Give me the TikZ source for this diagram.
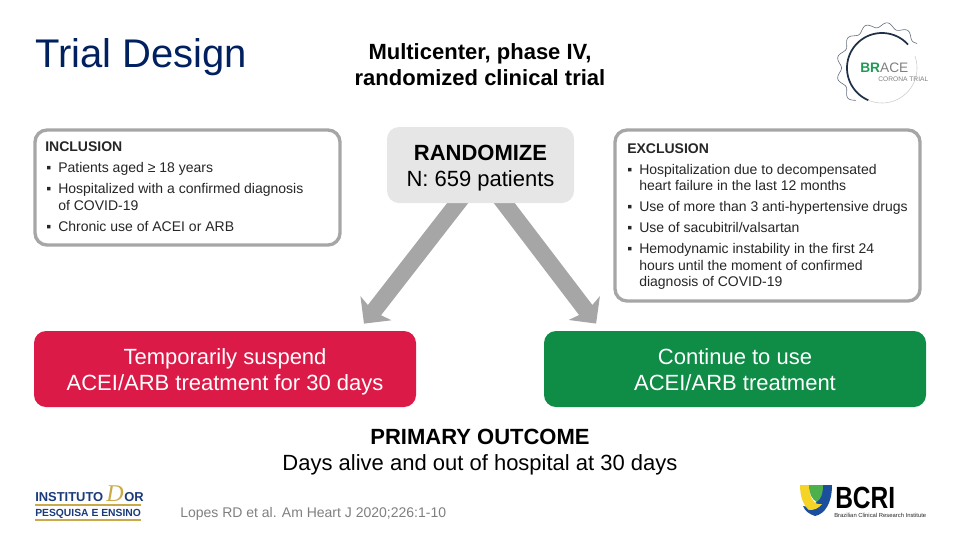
\documentclass[tikz,border=0pt]{standalone}
\usepackage{fontspec}
\usepackage{graphicx}
\setmainfont{Liberation Sans}
\newfontfamily\logoserif{Liberation Serif}
\usetikzlibrary{arrows.meta}
\definecolor{titleblue}{HTML}{002060}
\definecolor{bordergrey}{HTML}{A6A6A6}
\definecolor{randgrey}{HTML}{E6E6E6}
\definecolor{armred}{HTML}{DC1A47}
\definecolor{armgreen}{HTML}{0F8C46}
\definecolor{bodytext}{HTML}{262626}
\definecolor{citegrey}{HTML}{7F7F7F}
\definecolor{logoblue}{HTML}{1B3A7A}
\definecolor{logogold}{HTML}{C9A94A}
\definecolor{bracegreen}{HTML}{1F9A55}
\definecolor{bracedark}{HTML}{1F2F45}
\definecolor{bcriyellow}{HTML}{F5D327}
\definecolor{bcriblue}{HTML}{1B4F9C}
\definecolor{bcrigreen}{HTML}{4DB04A}
\pgfdeclarelayer{back}
\pgfsetlayers{back,main}
\tikzset{
  x=0.75pt,y=-0.75pt,
  listbox/.style={draw=bordergrey,line width=2.5pt,rounded corners=9pt,fill=white,minimum width=228.75pt,inner sep=0pt},
  armbox/.style={rounded corners=9pt,minimum width=286.5pt,minimum height=57pt,text=white,align=center,font=\fontsize{16.5}{19.5}\selectfont,inner sep=0pt},
  randbox/.style={fill=randgrey,rounded corners=9pt,minimum width=140.25pt,minimum height=57pt,align=center,text=black,font=\fontsize{16.5}{20}\selectfont,inner sep=0pt},
  headtext/.style={anchor=base,align=center,text=black,font=\fontsize{16.5}{19.5}\selectfont,inner sep=0pt},
  listtext/.style={anchor=base west,inner sep=0pt,text=bodytext,font=\fontsize{10.5}{12}\selectfont},
  listhead/.style={listtext,font=\fontsize{10.5}{12}\selectfont\bfseries},
  bigarrow/.style={draw=bordergrey,line width=12.5pt,-{Stealth[length=14.5pt,width=29pt,inset=3pt]},shorten <=-8pt,shorten >=6.75pt},
}
\begin{document}
\begin{tikzpicture}
\useasboundingbox (0,0) rectangle (960,540);
% title
\node[anchor=base west,inner sep=0pt,text=titleblue,font=\fontsize{30}{36}\selectfont] (title) at (35,67) {Trial Design};
\node[headtext,font=\fontsize{16.5}{19.5}\selectfont\bfseries] (kind1) at (480,59) {Multicenter, phase IV,};
\node[headtext,font=\fontsize{16.5}{19.5}\selectfont\bfseries] (kind2) at (480,85) {randomized clinical trial};
% boxes
\node[listbox,minimum height=86.25pt] (incl) at (187.5,187.5) {};
\node[listbox,minimum height=128.25pt] (excl) at (767.5,215.5) {};
\node[randbox] (rand) at (480.5,165) {\rule{0pt}{16pt}{\bfseries RANDOMIZE}\\N: 659 patients};
\node[armbox,fill=armred] (suspend) at (225,369) {\rule{0pt}{15.5pt}Temporarily suspend\\ACEI/ARB treatment for 30 days};
\node[armbox,fill=armgreen] (continue) at (735,369) {\rule{0pt}{15.5pt}Continue to use\\\rule[-3.5pt]{0pt}{1pt}ACEI/ARB treatment};
\begin{pgfonlayer}{back}
\draw[bigarrow] (rand.-121.5) -- (suspend.16.3);
\draw[bigarrow] (rand.-58.5) -- (continue.164.05);
\end{pgfonlayer}
% inclusion
\node[listhead] (i0) at (45,151) {INCLUSION};
\node[listtext] (ib1) at (46,172) {▪};
\node[listtext] (i1) at (58,172) {Patients aged ≥ 18 years};
\node[listtext] (ib2) at (46,193) {▪};
\node[listtext] (i2) at (58,193) {Hospitalized with a confirmed diagnosis};
\node[listtext] (i3) at (58,210) {of COVID-19};
\node[listtext] (ib3) at (46,231) {▪};
\node[listtext] (i4) at (58,231) {Chronic use of ACEI or ARB};
% exclusion
\node[listhead] (e0) at (627,153) {EXCLUSION};
\node[listtext] (eb1) at (627,174) {▪};
\node[listtext] (e1) at (639,174) {Hospitalization due to decompensated};
\node[listtext] (e2) at (639,190) {heart failure in the last 12 months};
\node[listtext] (eb2) at (627,211) {▪};
\node[listtext] (e3) at (639,211) {Use of more than 3 anti-hypertensive drugs};
\node[listtext] (eb3) at (627,232) {▪};
\node[listtext] (e4) at (639,232) {Use of sacubitril/valsartan};
\node[listtext] (eb4) at (627,253) {▪};
\node[listtext] (e5) at (639,253) {Hemodynamic instability in the first 24};
\node[listtext] (e6) at (639,270) {hours until the moment of confirmed};
\node[listtext] (e7) at (639,286) {diagnosis of COVID-19};
% outcome
\node[headtext,font=\fontsize{16.5}{19.5}\selectfont\bfseries] (out1) at (480,444) {PRIMARY OUTCOME};
\node[headtext] (out2) at (480,470) {Days alive and out of hospital at 30 days};
\node[anchor=base west,inner sep=0pt,text=citegrey,font=\fontsize{10.5}{12}\selectfont] (cite) at (180,517) {Lopes RD et al. Am Heart J 2020;226:1-10};
% BRACE logo
\draw[bracedark,line width=1.3pt,smooth,samples=60,domain=42:247]
  plot ({882+35*cos(\x)},{68-35*sin(\x)});
\draw[bordergrey!60,line width=0.4pt,smooth,samples=40,domain=-113:20]
  plot ({882+35*cos(\x)},{68-35*sin(\x)});
\draw[bracedark!70,line width=0.45pt,smooth,samples=160,domain=35:231]
  plot ({882+(43+2.5*cos(13*\x))*cos(\x)},{68-(43+2.5*cos(13*\x))*sin(\x)});
\node[anchor=base west,inner sep=0pt,font=\fontsize{10.3}{12}\selectfont] (brace) at (860,72.5) {\textcolor{bracegreen}{\bfseries BR}\textcolor{gray}{ACE}};
\node[anchor=base west,inner sep=0pt,text=gray,font=\fontsize{5}{6}\selectfont] (corona) at (878,81) {CORONA TRIAL};
% Instituto logo
\node[anchor=base west,inner sep=0pt,text=logoblue,font=\fontsize{9.7}{10}\selectfont\bfseries] (inst) at (35,501.5) {INSTITUTO};
\node[anchor=base west,inner sep=0pt,text=logogold,font=\fontsize{18}{18}\logoserif\itshape] (dor) at (106,501.5) {D};
\node[anchor=base west,inner sep=0pt,text=logoblue,font=\fontsize{9.7}{10}\selectfont\bfseries] (or) at (124,501.5) {OR};
\node[anchor=base west,inner sep=0pt,text=logoblue,font=\fontsize{7.75}{8}\selectfont\bfseries] (pesq) at (35,516.5) {PESQUISA E ENSINO};
\fill[logogold] (35,504) rectangle (141,506);
\fill[logogold] (35,518.5) rectangle (141,520.5);
% BCRI logo
\fill[bcriblue] (822,485) -- (832,485) .. controls (832,503) and (825,514) .. (815,516) .. controls (809,514) and (805,511) .. (803,506) .. controls (812,509) and (823,500) .. (822,485) -- cycle;
\fill[bcriyellow] (800,485) -- (809,485) .. controls (809,497) and (814,506) .. (822,504) .. controls (818,509) and (814,510) .. (809,510) .. controls (803,505) and (800,496) .. (800,485) -- cycle;
\fill[bcrigreen] (809,485) -- (823,485) .. controls (823,494) and (821,499) .. (816.5,502) .. controls (812,499) and (809,494) .. (809,485) -- cycle;
\node[anchor=base west,inner sep=0pt,font=\fontsize{23}{24}\selectfont\bfseries] (bcri) at (835,508) {\scalebox{0.8}[1]{BCRI}};
\node[anchor=base west,inner sep=0pt,text=bodytext,font=\fontsize{4.4}{5}\selectfont] (bcrisub) at (834,517.5) {Brazilian Clinical Research Institute};
\end{tikzpicture}
\end{document}
